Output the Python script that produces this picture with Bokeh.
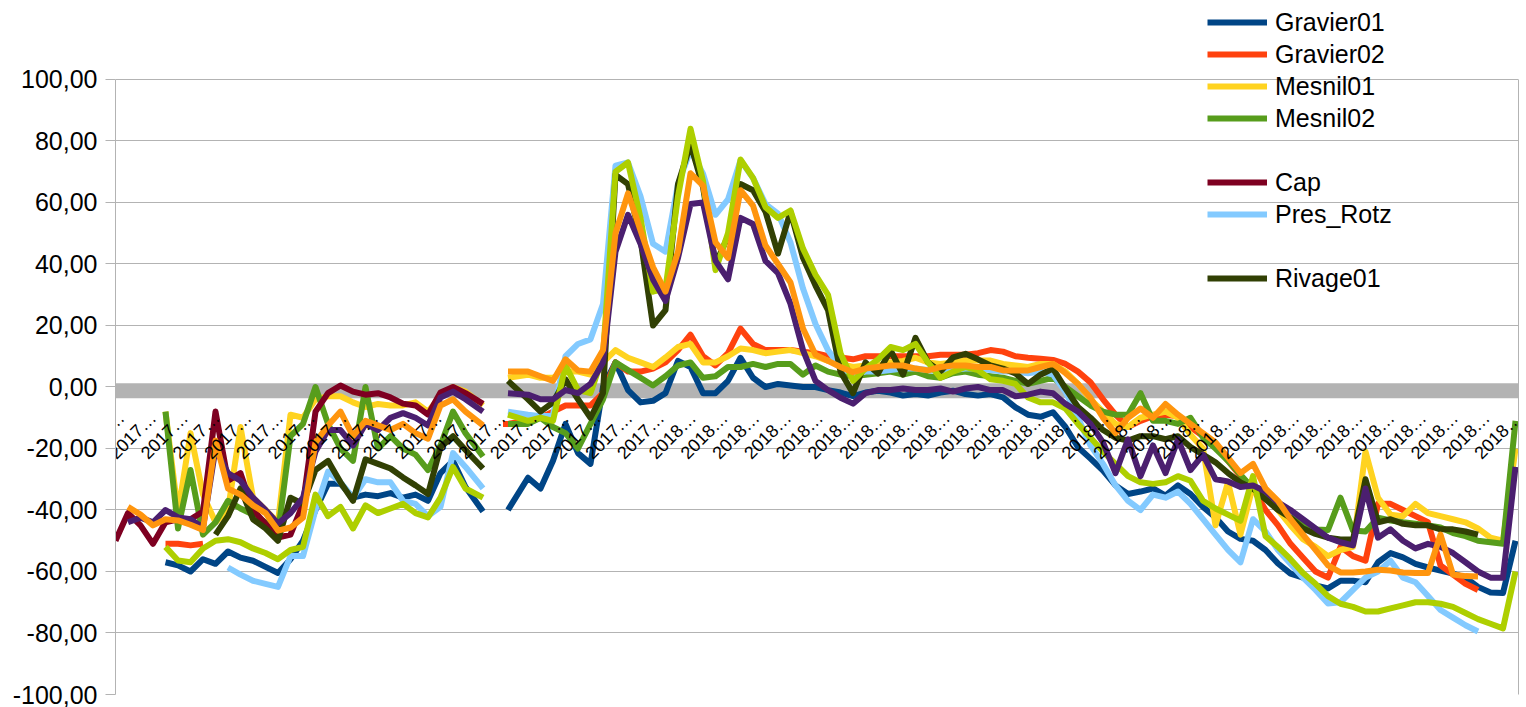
import numpy as np
from bokeh.plotting import figure
from bokeh.models import Range1d, FixedTicker, Legend, LegendItem, Span, LinearAxis
from bokeh.embed import file_html
from bokeh.resources import INLINE

N = None
# day index of each sample (one sample every 5 days, two moved next to the data gap)
days = list(range(0, 561, 5))
days[29] = 147
days[32] = 157

gravier01 = [
    N, N, N, N, -57, -58, -60, -56, -57.5, -53.5,
    -55.5, -56.5, -58.5, -60.5, -56, -50, -40, -31.5, -31.5, -36,
    -35, -35.5, -34.5, -36, -35, -37, -28, -24, -32.5, -40.5,
    N, N, -40, -29.5, -33, -24, -12, -21.5, -25, 0,
    8, -1, -5, -4.5, -2, 8.5, 6.5, -2, -2, 2,
    9.5, 3, 0, 1, 0.5, 0, 0, -1, -1.8, -3,
    -1.8, -1.2, -1.8, -2.8, -2.3, -2.8, -1.8, -1.2, -2.3, -2.8,
    -2.3, -3.4, -6.6, -9, -9.7, -8.2, -13, -19.6, -23.3, -27.2,
    -32, -34.8, -34, -33, -35.3, -32, -34.8, -39, -42.4, -47,
    -49.4, -50, -53, -57.4, -60.7, -62, -64.5, -65.5, -63, -63,
    -63.5, -57, -54, -55.4, -57.5, -58.7, -59.7, -60.7, -62, -65,
    -66.8, -67, -50]

gravier02 = [
    N, N, N, N, -51, -51, -51.5, -51, N, N,
    N, N, N, N, N, N, N, N, N, N,
    N, N, N, N, N, N, N, N, N, N,
    N, -12, -12, -11, -10, -8, -6, -6, -6, -2,
    8, 5, 5, 6, 8, 12, 17, 10, 7, 11,
    19, 14, 12, 12, 12, 11.5, 11, 10, 9.6, 9,
    10, 10, 10, 10, 10, 10, 10.5, 10.5, 10.5, 11,
    12, 11.5, 10, 9.5, 9.2, 8.8, 7.5, 5, 1.5, -4,
    -9, -13, -11, -9.5, -9, -9.5, -13, -16, -19, -24,
    -29, -33, -40, -45, -51, -55.5, -60, -62, -52, -55,
    -56.5, -38, -38, -40, -42, -44, -58, -61, -64, -66,
    N, N, N]

mesnil01 = [
    N, N, N, N, -8, -41, -15, -35, -44, -40,
    -13, -36, -40, -44, -9, -10, -4, -3, -3, -5,
    -6.5, -5.5, -6, -6, -5, -8, -3, 0, -1.5, -6,
    N, N, 3, 4, 3, 3, 5, 5, 4, 8,
    12, 9.5, 8, 6.5, 9.6, 13, 14, 8, 8, 10,
    12.5, 12, 11, 11.5, 12, 11, 10, 8.5, 7.5, 6.5,
    7, 7, 8, 8.5, 9.5, 8, 7.5, 8, 8.6, 8.6,
    8.6, 7.5, 7, 6.5, 7.5, 7.5, 5, 1, -4, -8,
    -12, -13, -10, -9, -8, -10, -15.5, -20, -45, -31,
    -48, -32, -36, -40, -45, -49.5, -52, -55, -53, -52,
    -21, -36, -41.5, -42, -38, -41, -42, -43, -44, -46,
    -49, -50, -20]

mesnil02 = [
    N, N, N, N, -8, -46, -27, -48, -44, -37,
    -39.5, -41.5, -44, -47.5, -16, -12, 0, -12, -20, -24,
    0, -20, -16, -20, -22, -27, -19, -8, -15, -22.6,
    N, N, -12, -12, -10, -13, -15, -20, -12, -4,
    8, 5.5, 3, 0.5, 3.5, 7, 8, 3, 3.5, 6.5,
    6.5, 7.5, 6.5, 7.5, 7.5, 4, 7, 5, 4, 3.5,
    4, 4.5, 5, 4, 5, 3.5, 3, 4.5, 5, 4,
    3.5, 3, 2, 1, 2, 3, 0, -3, -6, -8,
    -9, -9, -2, -11, -11, -12, -10, -16.4, -20, -24,
    -28.5, -33, -36, -39.5, -42.4, -45, -46.3, -46.5, -36, -46.7,
    -47, -42.5, -43.4, -44, -44.5, -45, -45.7, -47.5, -48.5, -50,
    -50.5, -51, -11]

cap = [
    -50, -41, -45, -51, -44, -43, -43, -40.5, -8, -30.5,
    -28, -40, -44.5, -49, -48, -38, -8, -2, 0.5, -1.5,
    -2.5, -2, -3.4, -5.4, -6, -9, -1.8, 0, -2, -5.5] + [N] * 83

pres_rotz = [
    N, N, N, N, N, N, N, N, N, -58.7,
    -61, -63, -64, -65, -55, -55, -40, -27.5, -31, -36,
    -30, -31, -31, -37, -38, -42, -39, -21.5, -26, -33,
    N, N, -8, -9, -9.5, -9, 10, 14, 15.5, 27,
    72, 73, 62, 46.6, 44, 66, 77, 69.4, 56, 61,
    73.7, 68, 59.5, 56.4, 47, 32, 20.5, 12, 6.5, 4,
    5, 5, 5.5, 6, 6, 5.5, 5, 5.5, 6, 6,
    5.5, 5, 5, 4.5, 5, 4, -1.5, -10, -19, -25,
    -32, -37, -40, -35, -36, -34, -38, -43, -48, -53,
    -57, -43, -47, -53, -57.5, -62, -66, -70.4, -70, -66,
    -62, -60, -56.5, -62, -63.5, -68, -72.5, -75, -77.5, -79.5,
    N, N, N]

rivage01 = [
    N, N, N, N, N, N, N, N, -48, -42,
    -33, -43, -46, -50, -36, -38, -27, -24, -31, -37,
    -23.5, -25, -26.5, -29.4, -32, -34.8, -19.6, -16, -20.5, -26.5,
    N, N, 2, -4, -8, -5, 2.5, -4, -10, -2,
    69, 66, 48, 20, 25, 66, 79, 65, 40, 49,
    66, 64, 57, 43.4, 57, 42, 33, 25, 5, -2,
    8, 4.4, 12, 4, 16, 8, 5, 9.6, 10.8, 9,
    7, 6, 4.4, 1, 4, 6, -0.5, -6.5, -10, -14,
    -16.5, -17.4, -16, -16, -17, -16, -19.5, -22, -24.5, -28,
    -31, -33, -36.5, -40, -42.5, -46, -47.8, -49, -49.6, -49.6,
    -30, -44, -43, -44.5, -45, -45, -46.3, -46.3, -47, -48,
    N, N, N]

serie_8 = [
    N, N, N, N, -52, -56.4, -57, -52.5, -50, -49.5,
    -50.5, -52.5, -54, -56, -53, -52, -35, -42, -39, -46,
    -38.5, -41, -39.5, -38, -41, -42.4, -36, -26, -33, -36,
    N, N, -9, -11, -10, -11, 7, -1, -2, 10,
    70, 73, 55, 31, 32, 62, 84, 67, 38, 50,
    74, 68, 58.5, 55, 57.4, 45, 36.5, 30, 11, 2,
    6, 9, 13, 12, 14, 8, 3, 5, 6.5, 5.5,
    2.5, 2, 1, -3.4, -5, -5, -7, -12, -16.5, -21,
    -25, -29, -31, -31.5, -31, -29, -30.5, -37, -39.5, -41.5,
    -43.5, -29, -48.5, -52, -56, -60.5, -64, -68, -70.5, -71.5,
    -73, -73, -72, -71, -70, -70, -70.5, -71.5, -73.5, -75.5,
    -77, -78.5, -60]

serie_9 = [
    N, -44, -42.5, -44, -40, -42.4, -43, -45.7, -20, -28,
    -30.5, -36, -40, -44.4, -41, -36, -21, -14, -14, -19,
    -12, -14, -10, -8.5, -10, -12.5, -3.4, -1.5, -4, -8,
    N, N, -2, -2.5, -4, -4, -1, -2, 1, 8,
    44, 56, 46.6, 35, 28, 42, 59.5, 60, 41, 35,
    55, 53, 41, 37, 27, 12, 2, -1, -3.5, -5.4,
    -2, -1, -1, -0.5, -1, -1, -0.5, -1.5, -0.5, 0,
    -1, -1, -3, -2.5, -1.5, -2, -5.5, -8, -12, -18,
    -28, -17, -29, -19, -28, -17, -27, -22, -30, -30.7,
    -32.5, -32, -34, -37.5, -40, -43, -46, -49, -50.5, -51.5,
    -33, -49, -46.3, -50, -52.5, -51, -52, -54, -57, -60,
    -62, -62, -26]

serie_10 = [
    N, -39, -41.5, -45, -43, -43.4, -44.8, -46.5, -17.4, -33,
    -35, -38.5, -41, -46.7, -45.7, -42.5, -18, -12.5, -8, -16,
    -11, -12.5, -14, -12, -15, -16.8, -6, -4, -8, -12.5,
    N, N, 5, 5, 3.5, 2, 9, 5.4, 5, 12,
    50, 63, 51, 39, 31, 44, 69.5, 65.5, 47, 42,
    64, 59, 46, 40, 34, 19, 10.5, 8.5, 6.5, 4.8,
    6, 6.5, 7, 7, 6, 5.4, 6.5, 7, 7, 6.5,
    6.5, 5.4, 5.4, 5.4, 6.5, 7.5, 4.5, 1, -3.5, -10,
    -15, -10, -7, -10, -5.5, -9, -12, -15, -18, -23,
    -28, -25, -33, -37, -43, -48, -53, -58, -60.3, -60.3,
    -60, -59.4, -59.7, -60.3, -60.5, -60.5, -48, -61, -61.5, -61.6,
    N, N, N]

# legend order (None = empty legend row)
legend_names = ["Gravier01", "Gravier02", "Mesnil01", "Mesnil02", None,
                "Cap", "Pres_Rotz", None, "Rivage01"]

series = [
    ("Gravier01", "#004586", gravier01),
    ("Gravier02", "#ff420e", gravier02),
    ("Mesnil01", "#ffd320", mesnil01),
    ("Mesnil02", "#579d1c", mesnil02),
    ("Cap", "#7e0021", cap),
    ("Pres_Rotz", "#83caff", pres_rotz),
    ("Rivage01", "#314004", rivage01),
    ("serie_8", "#aecf00", serie_8),
    ("serie_9", "#4b1f6f", serie_9),
    ("serie_10", "#ff950e", serie_10),
]

tick_labels = ["2017\u2026"] * 18 + ["2018\u2026"] * 27
label_step = 12.7
label_start = 2.4
x_ticks = [round(label_start + label_step * k, 2) for k in range(len(tick_labels))]

y_ticks = list(range(-100, 101, 20))
y_labels = [f"{v:.2f}".replace(".", ",") for v in y_ticks]
y_min, y_max = -100, 100
y_view_top = 125.69   # room above the plot area for the legend

FONT = "Liberation Sans"
GREY = "#b3b3b3"

p = figure(width=1526, height=707, x_range=Range1d(0, 561.2), y_range=Range1d(y_min, y_view_top),
           output_backend="svg", toolbar_location=None,
           min_border_left=115, min_border_right=8, min_border_top=0, min_border_bottom=13)
p.background_fill_color = "white"
p.border_fill_color = "white"
p.outline_line_color = None

p.xgrid.grid_line_color = None
p.ygrid.ticker = FixedTicker(ticks=y_ticks)
p.ygrid.grid_line_color = GREY

yax = p.left[0]
yax.bounds = (y_min, y_max)
yax.ticker = FixedTicker(ticks=y_ticks)
yax.major_label_overrides = dict(zip(y_ticks, y_labels))
yax.axis_line_color = GREY
yax.major_tick_line_color = GREY
yax.major_tick_out = 10
yax.major_tick_in = 0
yax.minor_tick_line_color = None
yax.major_label_standoff = 8
yax.major_label_text_font = FONT
yax.major_label_text_font_size = "25px"
yax.major_label_text_color = "black"

# right border of the plot area
rax = LinearAxis(bounds=(y_min, y_max), ticker=FixedTicker(ticks=[]), axis_line_color=GREY,
                 major_tick_line_color=None, minor_tick_line_color=None,
                 major_label_text_font_size="0px")
p.add_layout(rax, "right")

xax = p.below[0]
xax.fixed_location = 0
xax.ticker = FixedTicker(ticks=x_ticks)
xax.major_label_overrides = dict(zip(x_ticks, tick_labels))
xax.major_label_orientation = np.pi / 4
xax.axis_line_color = None
xax.major_tick_line_color = None
xax.minor_tick_line_color = None
xax.major_tick_out = 0
xax.major_label_standoff = 28
xax.major_label_text_font = FONT
xax.major_label_text_font_size = "18px"
xax.major_label_text_color = "black"

# thick grey zero line, beneath the data lines
p.add_layout(Span(location=-1.2, dimension="width", line_color=GREY, line_width=15, level="underlay"))

x = np.array(days, dtype=float)
renderers = {}
for name, color, vals in series:
    assert len(vals) == len(days), name
    y = np.array([np.nan if v is None else v for v in vals], dtype=float)
    renderers[name] = p.line(x, y, line_color=color, line_width=6, line_join="round")

items = []
for name in legend_names:
    if name is None:
        dummy = p.line(x=[], y=[], line_alpha=0)
        items.append(LegendItem(label=" ", renderers=[dummy]))
    else:
        items.append(LegendItem(label=name, renderers=[renderers[name]]))

legend = Legend(items=items, location=(1092, 400), orientation="vertical",
                glyph_width=60, glyph_height=32, label_height=32, spacing=0,
                label_standoff=8, padding=0, margin=0,
                border_line_alpha=0, background_fill_alpha=0,
                label_text_font=FONT, label_text_font_size="25px", label_text_color="black")
p.add_layout(legend)

open("out.html", "w").write(file_html(p, INLINE))
